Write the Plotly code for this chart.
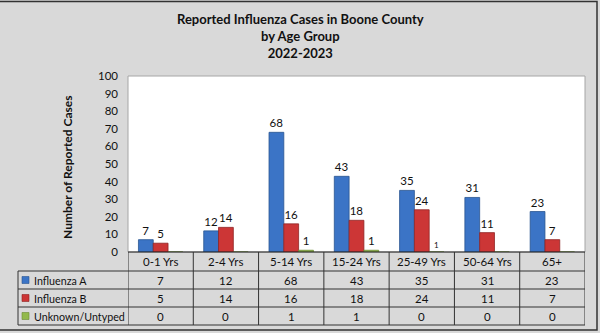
import plotly.graph_objects as go

categories = ["0-1 Yrs", "2-4 Yrs", "5-14 Yrs", "15-24 Yrs", "25-49 Yrs", "50-64 Yrs", "65+"]
flu_a = [7, 12, 68, 43, 35, 31, 23]
flu_b = [5, 14, 16, 18, 24, 11, 7]
unknown = [0, 0, 1, 1, 0, 0, 0]
series_names = ["Influenza A", "Influenza B", "Unknown/Untyped"]
series_values = [flu_a, flu_b, unknown]
colors = ["#3b74c6", "#cc3636", "#93b94c"]
line_colors = ["#2a5591", "#8f2424", "#6b8a33"]
y_ticks = list(range(0, 101, 10))

W, H = 600, 333
FONT = "Lato"

def px(x):
    return x / W

def py(y):
    return 1 - y / H

fig = go.Figure()
for name, vals, c, lc in zip(series_names, series_values, colors, line_colors):
    fig.add_trace(go.Bar(
        x=categories, y=vals, name=name,
        marker=dict(color=c, line=dict(color=lc, width=0.8)),
        text=[str(v) if v > 0 else "" for v in vals],
        textposition="outside", cliponaxis=False,
        textfont=dict(family=FONT, size=11.5, color="#111111"),
    ))

shapes = []
# outer chart border
shapes.append(dict(type="rect", xref="paper", yref="paper", x0=px(-2), x1=px(597), y0=py(330), y1=py(1.5),
                   line=dict(color="#333333", width=1.5), fillcolor="rgba(0,0,0,0)", layer="below"))
# plot area white background
shapes.append(dict(type="rect", xref="paper", yref="paper", x0=px(128), x1=px(585), y0=py(252), y1=py(76),
                   line=dict(color="#a6a6a6", width=1), fillcolor="white", layer="below"))

# table lines
row_ys = [252, 271, 289, 307, 325]
n = len(categories)
for i, yy in enumerate(row_ys):
    if i == 0:
        shapes.append(dict(type="line", xref="x", yref="paper", x0=-0.5, x1=n - 0.5, y0=py(yy), y1=py(yy),
                           line=dict(color="#222222", width=1.2)))
    else:
        shapes.append(dict(type="line", xref="paper", yref="paper", x0=px(18), x1=px(585), y0=py(yy), y1=py(yy),
                           line=dict(color="#333333", width=1.2)))
for k in range(n + 1):
    shapes.append(dict(type="line", xref="x", yref="paper", x0=k - 0.5, x1=k - 0.5, y0=py(252), y1=py(325),
                       line=dict(color="#333333", width=1)))
shapes.append(dict(type="line", xref="paper", yref="paper", x0=px(18), x1=px(18), y0=py(271), y1=py(325),
                   line=dict(color="#333333", width=1)))

annotations = []
# header labels
for i, cat in enumerate(categories):
    annotations.append(dict(x=i, y=py(261.5), xref="x", yref="paper", text=cat, showarrow=False,
                            yanchor="middle", font=dict(family=FONT, size=11.5, color="#111111")))
row_centers = [280, 298, 316]
for r, (name, vals, c, lc) in enumerate(zip(series_names, series_values, colors, line_colors)):
    yc = row_centers[r]
    shapes.append(dict(type="rect", xref="paper", yref="paper", x0=px(22), x1=px(29), y0=py(yc + 3.5), y1=py(yc - 3.5),
                       fillcolor=c, line=dict(color=lc, width=0.6)))
    annotations.append(dict(x=px(32), y=py(yc), xref="paper", yref="paper", text=name, showarrow=False,
                            xanchor="left", yanchor="middle", font=dict(family=FONT, size=10.7, color="#111111")))
    for i, v in enumerate(vals):
        annotations.append(dict(x=i, y=py(yc), xref="x", yref="paper", text=str(v), showarrow=False,
                                yanchor="middle", font=dict(family=FONT, size=11.5, color="#111111")))

# stray small label seen in the source
annotations.append(dict(x=4 + 0.227, y=0, xref="x", yref="y", text="1", showarrow=False, yanchor="bottom",
                        font=dict(family=FONT, size=8, color="#111111")))

# y-axis title
annotations.append(dict(x=px(67), y=py(167), xref="paper", yref="paper", text="<b>Number of Reported Cases</b>",
                        showarrow=False, textangle=-90, xanchor="center", yanchor="middle",
                        font=dict(family=FONT, size=12, color="#111111")))
# chart title
annotations.append(dict(x=0.5, y=py(36), xref="paper", yref="paper",
                        text="<b>Reported Influenza Cases in Boone County<br>by Age Group<br>2022-2023</b>",
                        showarrow=False, xanchor="center", yanchor="middle",
                        font=dict(family=FONT, size=13, color="#111111")))

fig.update_layout(
    width=W, height=H,
    margin=dict(l=0, r=0, t=0, b=0, pad=0),
    paper_bgcolor="#d9d9d9", plot_bgcolor="rgba(0,0,0,0)",
    barmode="group", bargap=0.32, bargroupgap=0,
    showlegend=False,
    shapes=shapes, annotations=annotations,
    xaxis=dict(domain=[px(128), px(585)], range=[-0.5, n - 0.5], showticklabels=False, showgrid=False,
               zeroline=False, showline=False, fixedrange=True, automargin=False),
    yaxis=dict(domain=[py(252), py(76)], range=[0, 100], tickvals=y_ticks, showgrid=False, zeroline=False,
               ticks="", ticklabelstandoff=9, showline=False, automargin=False,
               tickfont=dict(family=FONT, size=11.5, color="#111111")),
    font=dict(family=FONT),
)

fig.write_html("out.html")
